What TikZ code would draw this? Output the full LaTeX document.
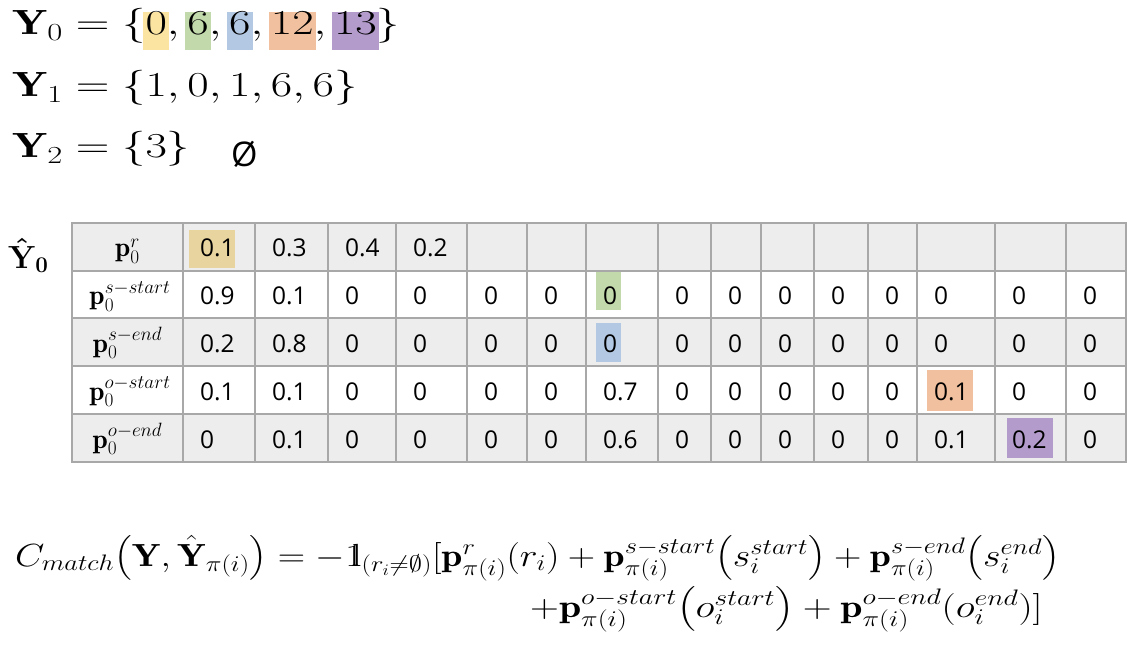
\RequirePackage{fix-cm}
\documentclass[tikz,border=0pt]{standalone}
\usepackage{amsmath}
\usepackage{graphicx}
\usepackage{fontspec}
\newfontfamily\cellfont{Open Sans}
\definecolor{hlyellow}{HTML}{FBE3A1}
\definecolor{hltan}{HTML}{E8D49E}
\definecolor{hlgreen}{HTML}{C2D9AC}
\definecolor{hlblue}{HTML}{B3C8E2}
\definecolor{hlorange}{HTML}{F1C09E}
\definecolor{hlpurple}{HTML}{B39BCB}
\definecolor{rowgray}{HTML}{EDEDED}
\definecolor{gridgray}{HTML}{A8A8A8}
% highlighted number in the set Y_0
\newcommand{\hlnum}[2]{%
  \setbox0=\hbox{$#2$}%
  \rlap{\hspace*{-1.8pt}\textcolor{#1}{\rule[-15pt]{\dimexpr\wd0+3.6pt\relax}{38pt}}}\box0}
\newcommand{\indic}{\mathrm{1\mkern-5mu l}}
\newcommand{\setfont}{\fontsize{35}{40}\selectfont}
\newcommand{\lossfont}{\fontsize{32}{36}\selectfont}
\tikzset{
  cell/.style={anchor=base west, inner sep=0pt, font=\cellfont\fontsize{24.5}{28}\selectfont},
  rowlabel/.style={anchor=base, inner sep=0pt, font=\fontsize{27.5}{30}\selectfont},
  gridline/.style={draw=gridgray, line width=2pt},
  mathline/.style={anchor=base west, inner sep=0pt},
}
\begin{document}
\begin{tikzpicture}[x=1pt, y=-1pt]
\useasboundingbox[fill=white] (0,0) rectangle (1142,652);
% the sets
\node[mathline] (set0) at (12,35) {\setfont\scalebox{1.33}[1]{$\mathbf{Y}_0=\{\hlnum{hlyellow}{0},\hlnum{hlgreen}{6},\hlnum{hlblue}{6},\hlnum{hlorange}{12},\hlnum{hlpurple}{13}\}$}};
\node[mathline] (set1) at (12,97) {\setfont\scalebox{1.33}[1]{$\mathbf{Y}_1=\{1,0,1,6,6\}$}};
\node[mathline] (set2) at (12,158) {\setfont\scalebox{1.33}[1]{$\mathbf{Y}_2=\{3\}$}};
\node[mathline, font=\cellfont\fontsize{34}{40}\selectfont] (empty) at (231,167) {Ø};
\node[mathline] (yhat) at (8,268) {\fontsize{32}{36}\selectfont$\boldsymbol{\hat{\mathbf{Y}}_0}$};
% table
\fill[rowgray] (72,223) rectangle (1126,270.5);
\fill[rowgray] (72,317.5) rectangle (1126,365.5);
\fill[rowgray] (72,413.5) rectangle (1126,461.5);
\fill[hltan] (189,230) rectangle (235,268);
\fill[hlgreen] (596,272) rectangle (621,310);
\fill[hlblue] (596,323) rectangle (621,362);
\fill[hlorange] (927,370) rectangle (973,411);
\fill[hlpurple] (1007,418) rectangle (1053,458);
\foreach \x in {72,183,255,328,396,467,527,586,658,711,761,814,868,917,995,1066,1126}
  \draw[gridline] (\x,223) -- (\x,461.5);
\foreach \y in {223,270.5,317.5,365.5,413.5,461.5}
  \draw[gridline] (71,\y) -- (1127,\y);
\node[rowlabel] (lab-r) at (127.5,257) {$\mathbf{p}_0^{r}$};
\node[rowlabel] (lab-ss) at (130,304.5) {$\mathbf{p}_0^{s-start}$};
\node[rowlabel] (lab-se) at (127.5,352) {$\mathbf{p}_0^{s-end}$};
\node[rowlabel] (lab-os) at (130,400) {$\mathbf{p}_0^{o-start}$};
\node[rowlabel] (lab-oe) at (127.5,448) {$\mathbf{p}_0^{o-end}$};
\def\colleft{{183,255,328,396,467,527,586,658,711,761,814,868,917,995,1066}}
\foreach \v [count=\i] in {0.1,0.3,0.4,0.2}{
  \pgfmathsetmacro\xl{\colleft[\i-1]+17}
  \node[cell] (r-\i) at (\xl,257) {\v};}
\foreach \v [count=\i] in {0.9,0.1,0,0,0,0,0,0,0,0,0,0,0,0,0}{
  \pgfmathsetmacro\xl{\colleft[\i-1]+17}
  \node[cell] (ss-\i) at (\xl,304.5) {\v};}
\foreach \v [count=\i] in {0.2,0.8,0,0,0,0,0,0,0,0,0,0,0,0,0}{
  \pgfmathsetmacro\xl{\colleft[\i-1]+17}
  \node[cell] (se-\i) at (\xl,352) {\v};}
\foreach \v [count=\i] in {0.1,0.1,0,0,0,0,0.7,0,0,0,0,0,0.1,0,0}{
  \pgfmathsetmacro\xl{\colleft[\i-1]+17}
  \node[cell] (os-\i) at (\xl,400) {\v};}
\foreach \v [count=\i] in {0,0.1,0,0,0,0,0.6,0,0,0,0,0,0.1,0.2,0}{
  \pgfmathsetmacro\xl{\colleft[\i-1]+17}
  \node[cell] (oe-\i) at (\xl,448) {\v};}
% matching cost
\node[mathline] (cost1) at (15,566) {\lossfont\scalebox{1.185}[1]{$C_{match}\bigl(\mathbf{Y},\hat{\mathbf{Y}}_{\pi(i)}\bigr)=-\indic_{(r_i\neq\emptyset)}[\mathbf{p}^{r}_{\pi(i)}(r_i)+\mathbf{p}^{s-start}_{\pi(i)}\bigl(s_i^{start}\bigr)+\mathbf{p}^{s-end}_{\pi(i)}\bigl(s_i^{end}\bigr)$}};
\node[mathline] (cost2) at (530,617) {\lossfont\scalebox{1.25}[1]{$+\mathbf{p}^{o-start}_{\pi(i)}\bigl(o_i^{start}\bigr)+\mathbf{p}^{o-end}_{\pi(i)}(o_i^{end})]$}};
\end{tikzpicture}
\end{document}
